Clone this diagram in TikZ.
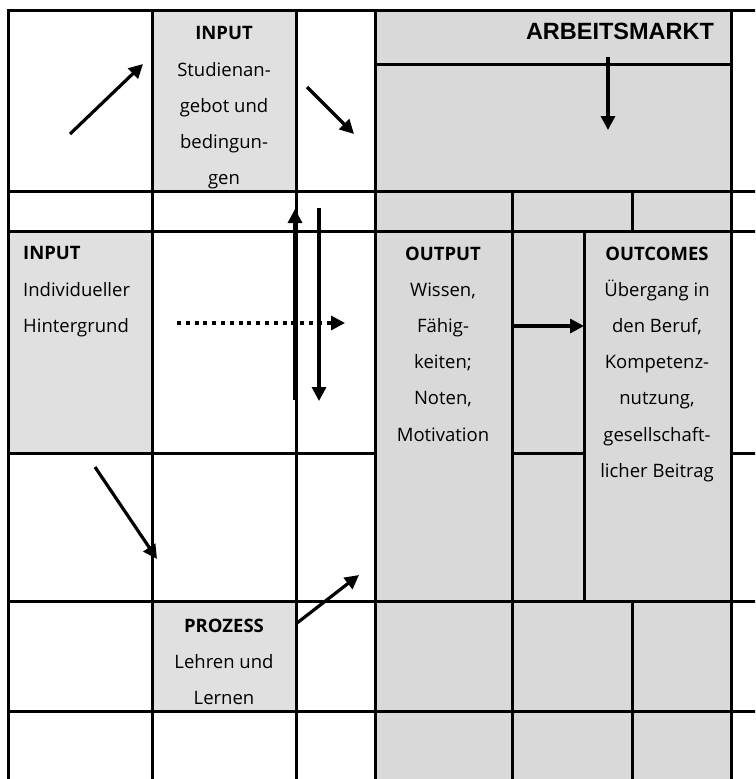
\documentclass[tikz,border=0pt]{standalone}
\usepackage{fontspec}
\setmainfont{Open Sans}
\newfontfamily\headfont{Liberation Sans}
\usetikzlibrary{arrows.meta}
\definecolor{celllight}{RGB}{224,224,224}
\definecolor{celldark}{RGB}{217,217,217}
\begin{document}
\begin{tikzpicture}[x=1pt,y=-1pt,
  rule/.style={line width=3pt,line cap=rect},
  flow/.style={line width=3.2pt,-{Triangle[length=14pt,width=14pt]}},
  dotflow/.style={flow,dash pattern=on 4pt off 4.8pt},
  cell/.style={inner sep=0pt,font=\fontsize{18.5}{36.2}\selectfont,align=center,text=black}]
\useasboundingbox (0,0) rectangle (755,779);
\fill[white] (0,0) rectangle (755,779);
\begin{scope}
\clip (0,0) rectangle (755,779);
% shaded cells
\fill[celllight] (152,10) rectangle (296,191);
\fill[celllight] (8,231) rectangle (152,453);
\fill[celllight] (152,601) rectangle (296,711);
\fill[celldark] (375,10) rectangle (731,779);
% horizontal rules
\draw[rule] (8,10) -- (760,10);
\draw[rule] (375,64) -- (731,64);
\draw[rule] (8,191) -- (760,191);
\draw[rule] (8,231) -- (760,231);
\draw[rule] (8,453) -- (375,453);
\draw[rule] (512,453) -- (584,453);
\draw[rule] (731,453) -- (760,453);
\draw[rule] (8,601) -- (760,601);
\draw[rule] (8,711) -- (760,711);
% vertical rules
\foreach \x in {8,152,296,375,731} \draw[rule] (\x,10) -- (\x,785);
\draw[rule] (512,191) -- (512,785);
\draw[rule] (632,191) -- (632,231);
\draw[rule] (632,601) -- (632,785);
\draw[rule] (584,231) -- (584,601);
\end{scope}

% texts
\node[cell,anchor=north] (studien) at (224,26.5)
  {\textbf{INPUT}\\Studienan-\\gebot und\\bedingun-\\gen};
\node[cell,anchor=north west,align=left] (indiv) at (23,246.5)
  {\textbf{INPUT}\\Individueller\\Hintergrund};
\node[cell,anchor=north] (output) at (443,246.5)
  {\textbf{OUTPUT}\\Wissen,\\Fähig-\\keiten;\\Noten,\\Motivation};
\node[cell,anchor=north] (outcomes) at (657,246.5)
  {\textbf{OUTCOMES}\\Übergang in\\den Beruf,\\Kompetenz-\\nutzung,\\gesellschaft-\\licher Beitrag};
\node[cell,anchor=north] (prozess) at (224,618.5)
  {\textbf{PROZESS}\\Lehren und\\Lernen};
\node[inner sep=0pt,font=\headfont\bfseries\fontsize{23.5}{26}\selectfont,text=black] (markt) at (620,31) {ARBEITSMARKT};

% arrow end points
\coordinate (a1s) at (70,134);  \coordinate (a1e) at (143,64);
\coordinate (a2s) at (307,87);  \coordinate (a2e) at (354,134);
\coordinate (a3s) at (608,57);  \coordinate (a3e) at (608,130);
\coordinate (a4s) at (295,400); \coordinate (a4e) at (295,209);
\coordinate (a5s) at (319,208); \coordinate (a5e) at (319,401);
\coordinate (a6s) at (177,323); \coordinate (a6e) at (345,323);
\coordinate (a7s) at (513,326); \coordinate (a7e) at (584,326);
\coordinate (a8s) at (95,467);  \coordinate (a8e) at (157,559);
\coordinate (a9s) at (297,623); \coordinate (a9e) at (359,575);

% arrows
\draw[flow] (a1s) -- (a1e);
\draw[flow] (a2s) -- (a2e);
\draw[flow] (a3s) -- (a3e);
\draw[flow] (a4s) -- (a4e);
\draw[flow] (a5s) -- (a5e);
\draw[dotflow] (a6s) -- (a6e);
\draw[flow] (a7s) -- (a7e);
\draw[flow] (a8s) -- (a8e);
\draw[flow] (a9s) -- (a9e);
\end{tikzpicture}
\end{document}
